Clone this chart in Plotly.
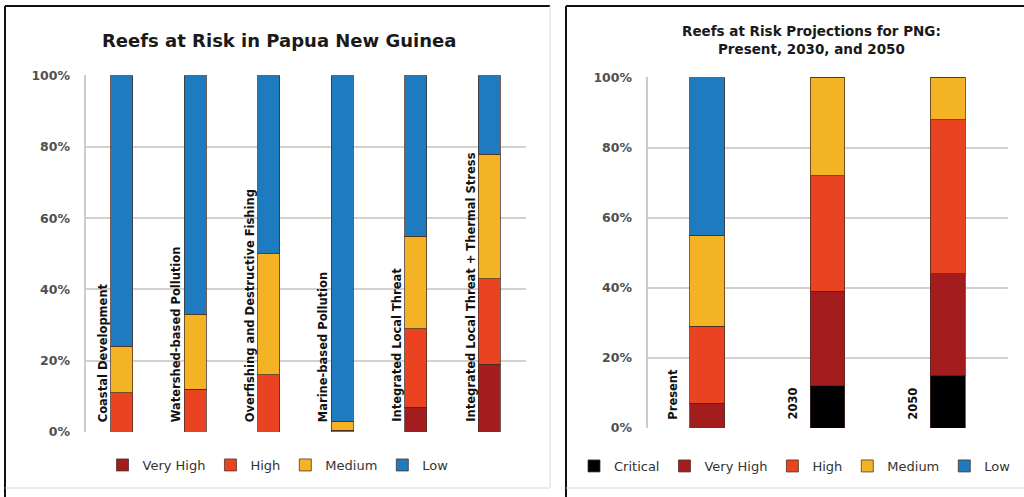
import plotly.graph_objects as go

# ---------------- data ----------------
threats = ["Coastal Development", "Watershed-based Pollution",
           "Overfishing and Destructive Fishing", "Marine-based Pollution",
           "Integrated Local Threat", "Integrated Local Threat + Thermal Stress"]
left_very_high = [0, 0, 0, 0, 7, 19]
left_high = [11, 12, 16, 0.5, 22, 24]
left_medium = [13, 21, 34, 2.5, 26, 35]
left_low = [76, 67, 50, 97, 45, 22]

periods = ["Present", "2030", "2050"]
right_critical = [0, 12, 15]
right_very_high = [7, 27, 29]
right_high = [22, 33, 44]
right_medium = [26, 28, 12]
right_low = [45, 0, 0]

left_title = "Reefs at Risk in Papua New Guinea"
right_title = "Reefs at Risk Projections for PNG:<br>Present, 2030, and 2050"
ytick_vals = [0, 0.2, 0.4, 0.6, 0.8, 1.0]
ytick_text = ["0%", "20%", "40%", "60%", "80%", "100%"]

# ---------------- style ----------------
C_CRIT = "#000000"
C_VH = "#A31D1F"
C_H = "#EA4322"
C_M = "#F4B324"
C_L = "#1F7BC0"
FONT = "DejaVu Sans"
EDGE = dict(color="rgba(70,45,35,0.75)", width=1)

W, H = 1024, 497

fig = go.Figure()

left_series = [("Very High", left_very_high, C_VH), ("High", left_high, C_H),
               ("Medium", left_medium, C_M), ("Low", left_low, C_L)]
for name, vals, col in left_series:
    fig.add_trace(go.Bar(x=threats, y=[v / 100 for v in vals], name=name,
                         marker=dict(color=col, line=EDGE), width=0.30,
                         xaxis="x", yaxis="y", legend="legend"))

right_series = [("Critical", right_critical, C_CRIT), ("Very High", right_very_high, C_VH),
                ("High", right_high, C_H), ("Medium", right_medium, C_M),
                ("Low", right_low, C_L)]
for name, vals, col in right_series:
    fig.add_trace(go.Bar(x=periods, y=[v / 100 for v in vals], name=name,
                         marker=dict(color=col, line=EDGE), width=0.29,
                         xaxis="x2", yaxis="y2", legend="legend2"))

def py(pix):
    return 1 - pix / H

axis_common = dict(type="category", showgrid=False, showticklabels=False, ticks="",
                   zeroline=False, showline=False, fixedrange=True, automargin=False)
yaxis_common = dict(range=[0, 1.002], tickvals=ytick_vals, ticktext=ytick_text,
                    showgrid=True, gridcolor="#d6d0ca", gridwidth=2,
                    zeroline=False, showline=False, ticks="", automargin=False,
                    tickfont=dict(family=FONT, size=12.5, color="#505050", weight="bold"),
                    ticklabelstandoff=14, fixedrange=True)

legend_font = dict(family=FONT, size=13, color="#333333")

fig.update_layout(
    width=W, height=H, autosize=False,
    margin=dict(l=0, r=0, t=0, b=0, autoexpand=False),
    paper_bgcolor="white", plot_bgcolor="rgba(0,0,0,0)",
    barmode="stack",
    font=dict(family=FONT, color="#222222"),
    xaxis=dict(domain=[85 / W, 526 / W], anchor="y", range=[-0.5, len(threats) - 0.5],
               **axis_common),
    yaxis=dict(domain=[py(432), py(75)], anchor="x", **yaxis_common),
    xaxis2=dict(domain=[647 / W, 1008 / W], anchor="y2", range=[-0.5, len(periods) - 0.5],
                **axis_common),
    yaxis2=dict(domain=[py(428), py(77)], anchor="x2", **yaxis_common),
    legend=dict(orientation="h", x=278 / W, xanchor="center", y=py(465), yanchor="middle",
                font=legend_font, itemwidth=30,
                bgcolor="rgba(0,0,0,0)", traceorder="normal"),
    legend2=dict(orientation="h", x=795 / W, xanchor="center", y=py(466), yanchor="middle",
                 font=legend_font, itemwidth=30,
                 bgcolor="rgba(0,0,0,0)", traceorder="normal"),
    showlegend=True,
)

shapes = [
    dict(type="line", xref="paper", yref="paper", x0=85 / W, x1=85 / W,
         y0=py(432), y1=py(75), line=dict(color="#cfcac6", width=2)),
    dict(type="line", xref="paper", yref="paper", x0=647 / W, x1=647 / W,
         y0=py(428), y1=py(77), line=dict(color="#cfcac6", width=2)),
    dict(type="line", xref="paper", yref="paper", x0=5 / W, x1=550 / W,
         y0=py(6), y1=py(6), line=dict(color="#111111", width=2)),
    dict(type="line", xref="paper", yref="paper", x0=5 / W, x1=5 / W,
         y0=0, y1=py(6), line=dict(color="#111111", width=2)),
    dict(type="line", xref="paper", yref="paper", x0=550 / W, x1=550 / W,
         y0=py(488), y1=py(6), line=dict(color="#dddddd", width=1)),
    dict(type="line", xref="paper", yref="paper", x0=566 / W, x1=1024 / W,
         y0=py(6), y1=py(6), line=dict(color="#111111", width=2)),
    dict(type="line", xref="paper", yref="paper", x0=566 / W, x1=566 / W,
         y0=0, y1=py(6), line=dict(color="#111111", width=2)),
    dict(type="line", xref="paper", yref="paper", x0=5 / W, x1=550 / W,
         y0=py(488), y1=py(488), line=dict(color="#d8d8d8", width=1)),
    dict(type="line", xref="paper", yref="paper", x0=566 / W, x1=1024 / W,
         y0=py(488), y1=py(488), line=dict(color="#d8d8d8", width=1)),
]
fig.update_layout(shapes=shapes)

annotations = [
    dict(text=left_title, xref="paper", yref="paper",
         x=279 / W, y=py(41), xanchor="center", yanchor="middle", showarrow=False,
         font=dict(family=FONT, size=18, color="#1a1a1a", weight="bold")),
    dict(text=right_title, xref="paper", yref="paper",
         x=811 / W, y=py(40), xanchor="center", yanchor="middle", showarrow=False,
         font=dict(family=FONT, size=13.5, color="#1a1a1a", weight="bold")),
]
for i, t in enumerate(threats):
    annotations.append(dict(text=t, x=i, y=0, xref="x", yref="y",
                            textangle=-90, xanchor="center", yanchor="bottom",
                            xshift=-19, yshift=8, showarrow=False,
                            font=dict(family=FONT, size=11.5, color="#111111", weight="bold")))
for i, p in enumerate(periods):
    annotations.append(dict(text=p, x=i, y=0, xref="x2", yref="y2",
                            textangle=-90, xanchor="center", yanchor="bottom",
                            xshift=-35, yshift=6, showarrow=False,
                            font=dict(family=FONT, size=11.5, color="#111111", weight="bold")))
fig.update_layout(annotations=annotations)

fig.write_html("out.html", config={"displayModeBar": False},
               post_script="document.body.style.margin='0';document.body.style.overflow='hidden';")
